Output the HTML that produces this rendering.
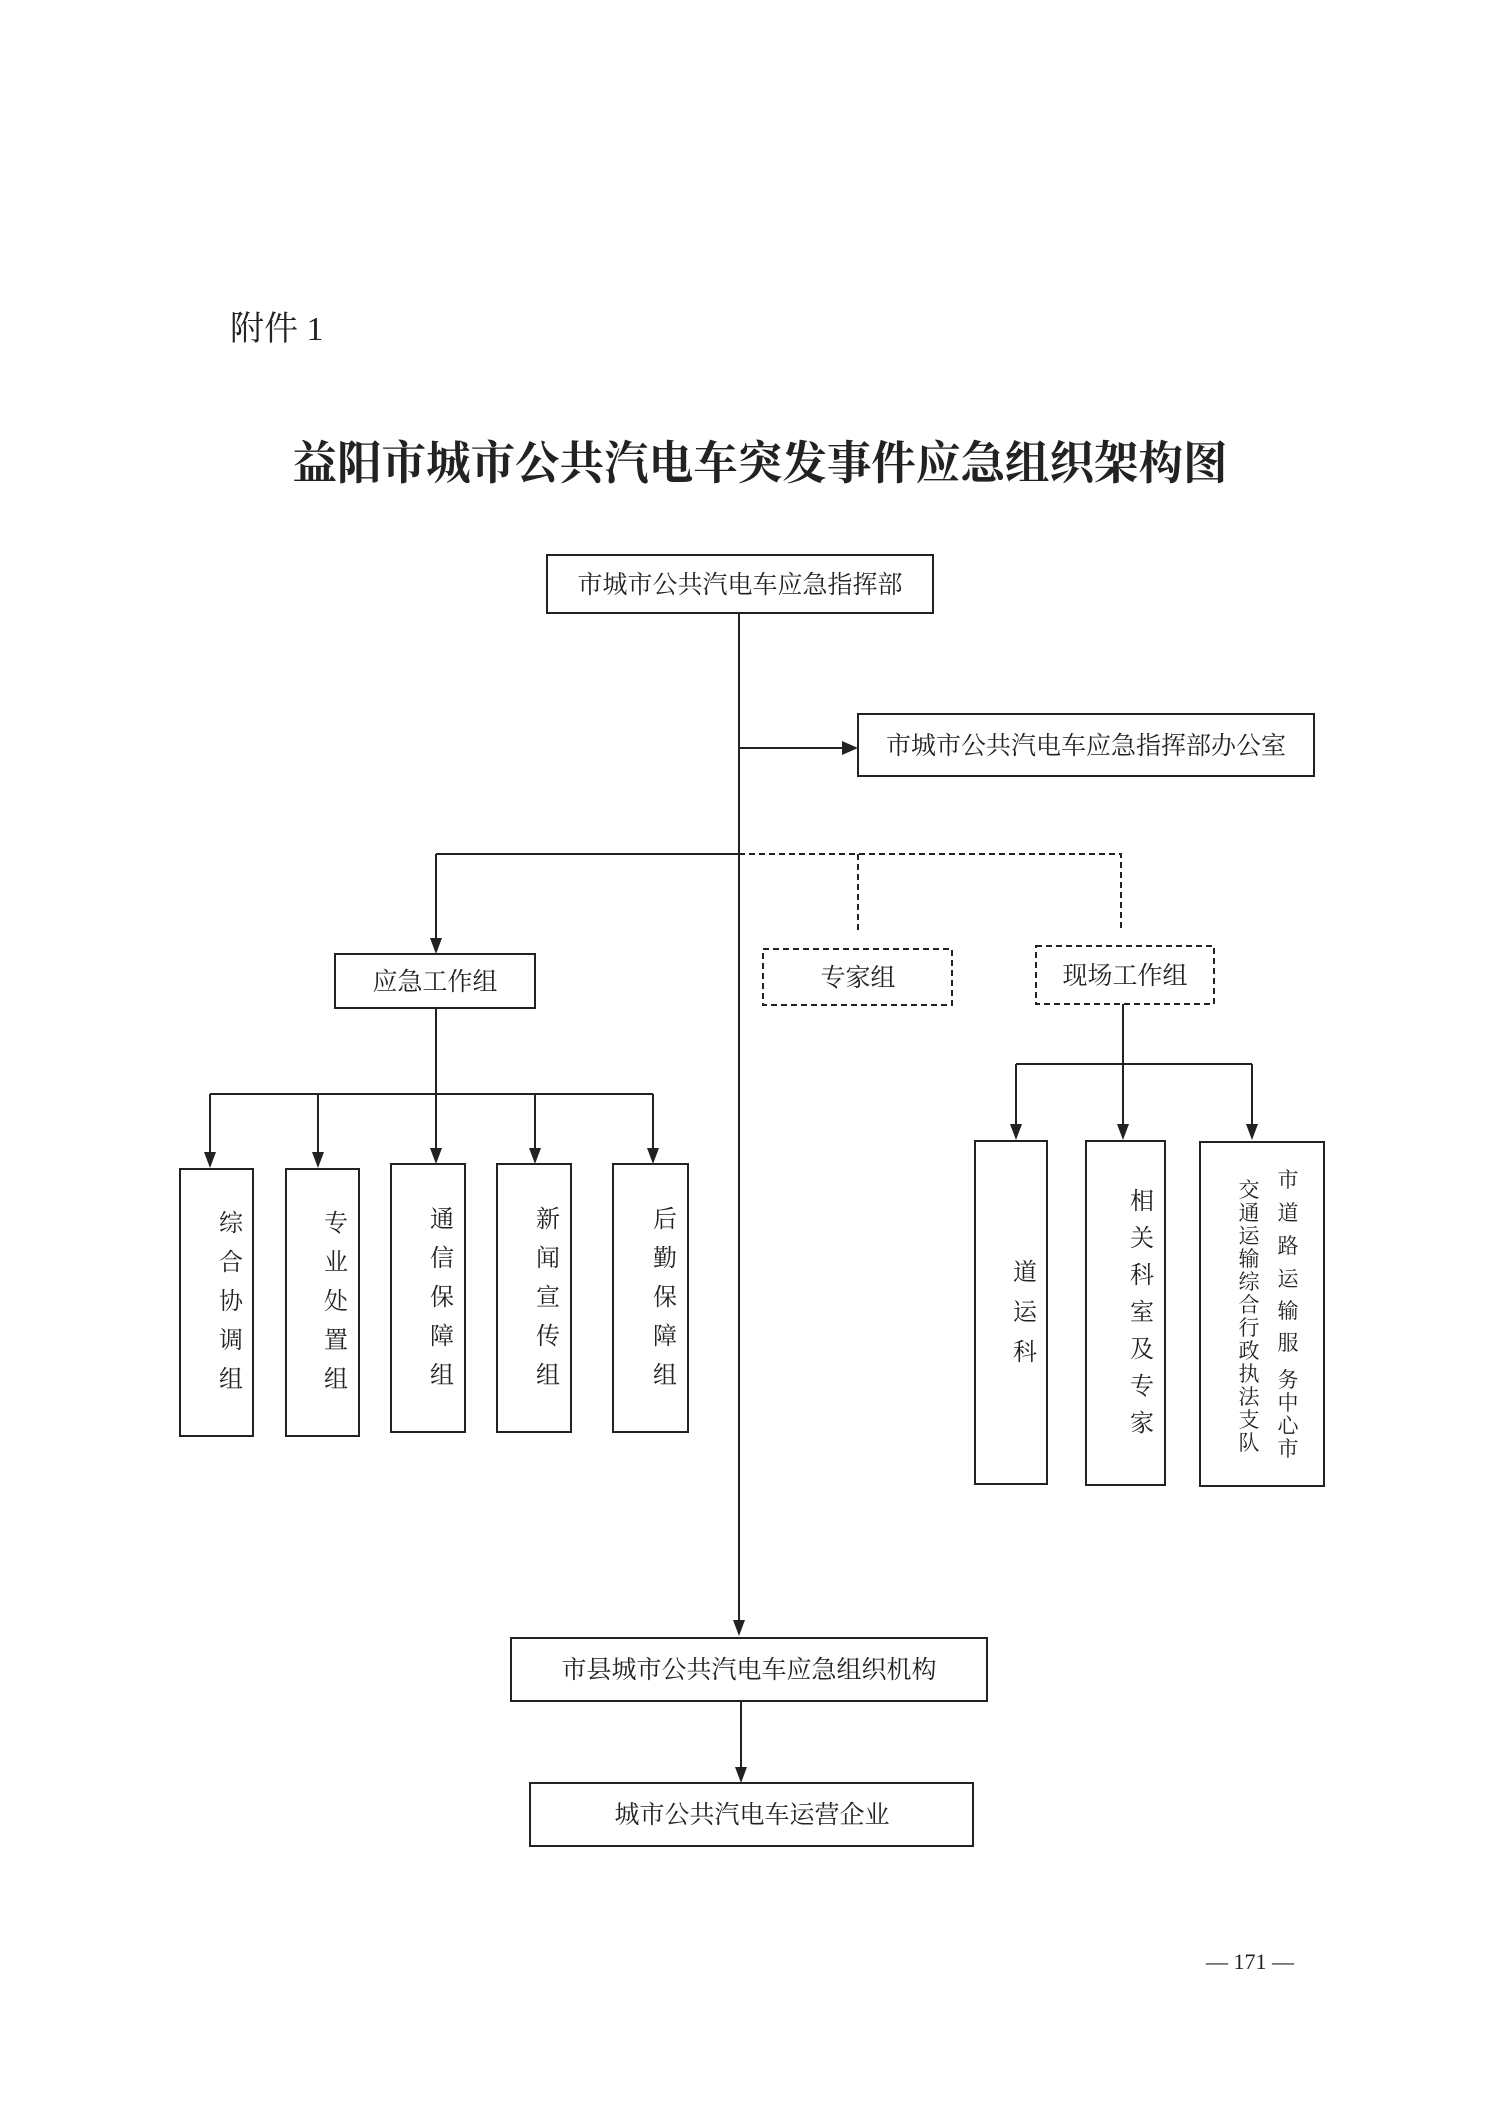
<!DOCTYPE html>
<html><head><meta charset="utf-8"><style>
html,body{margin:0;padding:0;background:#fff;}
svg{display:block;}
text{font-family:"Liberation Serif","Noto Serif CJK SC",serif;fill:#222;}
</style></head><body>
<svg width="1488" height="2105" viewBox="0 0 1488 2105" xmlns="http://www.w3.org/2000/svg">
<text x="230" y="340" font-size="34">附件 1</text>
<text x="760" y="479" font-size="46" font-weight="bold" text-anchor="middle" textLength="935" lengthAdjust="spacingAndGlyphs" font-family="Noto Serif CJK SC,serif">益阳市城市公共汽电车突发事件应急组织架构图</text>

<g fill="none" stroke="#222" stroke-width="2">
<rect x="547" y="555" width="386" height="58"/>
<rect x="858" y="714" width="456" height="62"/>
<rect x="335" y="954" width="200" height="54"/>
<rect x="763" y="949" width="189" height="56" stroke-dasharray="6,4"/>
<rect x="1036" y="946" width="178" height="58" stroke-dasharray="6,4"/>
<rect x="180" y="1169" width="73" height="267"/>
<rect x="286" y="1169" width="73" height="267"/>
<rect x="391" y="1164" width="74" height="268"/>
<rect x="497" y="1164" width="74" height="268"/>
<rect x="613" y="1164" width="75" height="268"/>
<rect x="975" y="1141" width="72" height="343"/>
<rect x="1086" y="1141" width="79" height="344"/>
<rect x="1200" y="1142" width="124" height="344"/>
<rect x="511" y="1638" width="476" height="63"/>
<rect x="530" y="1783" width="443" height="63"/>

<line x1="739" y1="613" x2="739" y2="1620"/>
<line x1="739" y1="748" x2="842" y2="748"/>
<line x1="739" y1="854" x2="436" y2="854"/>
<line x1="436" y1="854" x2="436" y2="938"/>
<path d="M739,854 H1121 V932 M858,854 V932" stroke-dasharray="6,4"/>
<line x1="436" y1="1008" x2="436" y2="1094"/>
<line x1="210" y1="1094" x2="653" y2="1094"/>
<line x1="210" y1="1094" x2="210" y2="1152"/>
<line x1="318" y1="1094" x2="318" y2="1152"/>
<line x1="436" y1="1094" x2="436" y2="1148"/>
<line x1="535" y1="1094" x2="535" y2="1148"/>
<line x1="653" y1="1094" x2="653" y2="1148"/>
<line x1="1123" y1="1004" x2="1123" y2="1124"/>
<line x1="1016" y1="1064" x2="1252" y2="1064"/>
<line x1="1016" y1="1064" x2="1016" y2="1124"/>
<line x1="1252" y1="1064" x2="1252" y2="1124"/>
<line x1="741" y1="1701" x2="741" y2="1767"/>
</g>
<g fill="#222">
<path d="M842,741 L858,748 L842,755 z"/>
<path d="M430,938 L442,938 L436,954 z"/>
<path d="M204,1152 L216,1152 L210,1168 z"/>
<path d="M312,1152 L324,1152 L318,1168 z"/>
<path d="M430,1148 L442,1148 L436,1164 z"/>
<path d="M529,1148 L541,1148 L535,1164 z"/>
<path d="M647,1148 L659,1148 L653,1164 z"/>
<path d="M1010,1124 L1022,1124 L1016,1140 z"/>
<path d="M1117,1124 L1129,1124 L1123,1140 z"/>
<path d="M1246,1124 L1258,1124 L1252,1140 z"/>
<path d="M733,1620 L745,1620 L739,1636 z"/>
<path d="M735,1767 L747,1767 L741,1783 z"/>
</g>

<g font-size="25" text-anchor="middle">
<text x="740" y="593">市城市公共汽电车应急指挥部</text>
<text x="1086" y="754">市城市公共汽电车应急指挥部办公室</text>
<text x="435" y="990">应急工作组</text>
<text x="858" y="986">专家组</text>
<text x="1125" y="984">现场工作组</text>
<text x="749" y="1678">市县城市公共汽电车应急组织机构</text>
<text x="752" y="1823">城市公共汽电车运营企业</text>
</g>
<g font-size="24" text-anchor="middle" dominant-baseline="central">
<text x="231" y="1224">综</text><text x="231" y="1263">合</text><text x="231" y="1302">协</text><text x="231" y="1341">调</text><text x="231" y="1380">组</text>
<text x="336" y="1224">专</text><text x="336" y="1263">业</text><text x="336" y="1302">处</text><text x="336" y="1341">置</text><text x="336" y="1380">组</text>
<text x="442" y="1220">通</text><text x="442" y="1259">信</text><text x="442" y="1298">保</text><text x="442" y="1337">障</text><text x="442" y="1376">组</text>
<text x="548" y="1220">新</text><text x="548" y="1259">闻</text><text x="548" y="1298">宣</text><text x="548" y="1337">传</text><text x="548" y="1376">组</text>
<text x="665" y="1220">后</text><text x="665" y="1259">勤</text><text x="665" y="1298">保</text><text x="665" y="1337">障</text><text x="665" y="1376">组</text>
<text x="1025" y="1273">道</text><text x="1025" y="1313">运</text><text x="1025" y="1353">科</text>
<text x="1142" y="1202">相</text><text x="1142" y="1239">关</text><text x="1142" y="1276">科</text><text x="1142" y="1313">室</text><text x="1142" y="1350">及</text><text x="1142" y="1387">专</text><text x="1142" y="1424">家</text>
</g>
<g font-size="21" text-anchor="middle" dominant-baseline="central">
<text x="1288" y="1180">市</text><text x="1288" y="1213">道</text><text x="1288" y="1246">路</text><text x="1288" y="1279">运</text><text x="1288" y="1311">输</text><text x="1288" y="1343">服</text><text x="1288" y="1380">务</text><text x="1288" y="1403">中</text><text x="1288" y="1426">心</text><text x="1288" y="1449">市</text>
<text x="1249" y="1190">交</text><text x="1249" y="1213">通</text><text x="1249" y="1236">运</text><text x="1249" y="1259">输</text><text x="1249" y="1282">综</text><text x="1249" y="1305">合</text><text x="1249" y="1328">行</text><text x="1249" y="1351">政</text><text x="1249" y="1374">执</text><text x="1249" y="1397">法</text><text x="1249" y="1420">支</text><text x="1249" y="1443">队</text>
</g>
<text x="1250" y="1969" font-size="22" text-anchor="middle">— 171 —</text>
</svg>
</body></html>
